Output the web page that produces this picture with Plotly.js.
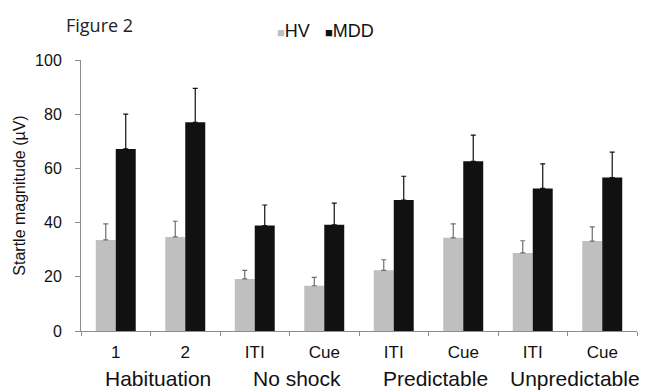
<!DOCTYPE html>
<html>
<head>
<meta charset="utf-8">
<script src="https://cdn.plot.ly/plotly-3.0.1.min.js"></script>
<style>html,body{margin:0;padding:0;background:#fff;}#chart{width:659px;height:391px;}</style>
</head>
<body>
<div id="chart"></div>
<script>
// Data
const categories = ['1', '2', 'ITI', 'Cue', 'ITI', 'Cue', 'ITI', 'Cue'];
const groups = ['Habituation', 'No shock', 'Predictable', 'Unpredictable'];
const seriesNames = ['HV', 'MDD'];
const hvValues = [33.6, 34.7, 19.2, 16.7, 22.4, 34.4, 28.8, 33.2];
const hvErrors = [5.9, 5.8, 3.2, 3.1, 3.9, 5.1, 4.5, 5.2];
const mddValues = [67.2, 77.0, 38.9, 39.2, 48.3, 62.6, 52.6, 56.6];
const mddErrors = [12.8, 12.5, 7.6, 8.0, 8.8, 9.7, 9.1, 9.4];
const yTicks = [0, 20, 40, 60, 80, 100];

const xs = categories.map((c, i) => i);
const fontFam = "'Liberation Sans', Arial, sans-serif";
const colors = ['#bfbfbf', '#111111'];

const traces = [
  {
    type: 'bar', name: seriesNames[0], x: xs, y: hvValues,
    marker: {color: colors[0], line: {width: 0}},
    error_y: {type: 'data', symmetric: false, array: hvErrors, arrayminus: hvErrors.map(() => 0),
              color: '#6e6e6e', thickness: 1.2, width: 2.5},
    showlegend: false
  },
  {
    type: 'bar', name: seriesNames[1], x: xs, y: mddValues,
    marker: {color: colors[1], line: {width: 0}},
    error_y: {type: 'data', symmetric: false, array: mddErrors, arrayminus: mddErrors.map(() => 0),
              color: '#111111', thickness: 1.2, width: 2.5},
    showlegend: false
  }
];

const plotW = 659 - 81 - 22, plotH = 391 - 60 - 60;
const px = v => (v - 81) / plotW;
const py = v => (391 - 60 - v) / plotH;

const annotations = groups.map((g, i) => ({
  text: g, x: 2 * i + 0.5, xref: 'x', y: 0, yref: 'paper', yanchor: 'middle',
  yshift: -47, xshift: 7, showarrow: false,
  font: {family: fontFam, size: 21, color: '#111'}
}));

annotations.push({
  text: 'Figure 2', x: px(64), xref: 'paper', xanchor: 'left', y: py(25), yref: 'paper', yanchor: 'middle',
  showarrow: false, font: {family: "'Open Sans', sans-serif", size: 18, color: '#222'}
});

const legendX = [275, 323];
seriesNames.forEach((n, i) => {
  annotations.push({
    text: '<span style="color:' + colors[i] + ';font-size:13px">■</span>' + n,
    x: px(legendX[i]), xref: 'paper', xanchor: 'left', y: py(31), yref: 'paper', yanchor: 'middle',
    showarrow: false, font: {family: fontFam, size: 18, color: '#111'}
  });
});

const layout = {
  width: 659, height: 391,
  margin: {l: 81, r: 22, t: 60, b: 60},
  paper_bgcolor: '#fff', plot_bgcolor: '#fff',
  barmode: 'group', bargap: 0.425, bargroupgap: 0,
  xaxis: {
    type: 'linear', range: [-0.5, 7.5], tickmode: 'array', tickvals: xs, ticktext: categories,
    ticks: '', showgrid: false, zeroline: false, showline: true, linecolor: '#8c8c8c', linewidth: 1,
    tickfont: {family: fontFam, size: 17, color: '#111'}, ticklabelstandoff: 6,
    minor: {tickmode: 'linear', tick0: -0.5, dtick: 1, ticks: 'outside', ticklen: 4, tickcolor: '#8c8c8c', tickwidth: 1, showgrid: false}
  },
  yaxis: {
    range: [0, 100], tickmode: 'array', tickvals: yTicks, ticks: 'outside', ticklen: 5,
    tickcolor: '#8c8c8c', showgrid: false, zeroline: false, showline: true, linecolor: '#8c8c8c', linewidth: 1,
    tickfont: {family: fontFam, size: 16, color: '#111'}, ticklabelstandoff: 10,
    title: {text: 'Startle magnitude (µV)', font: {family: fontFam, size: 16, color: '#111'}, standoff: 5}
  },
  annotations: annotations,
  font: {family: fontFam}
};

Plotly.newPlot('chart', traces, layout, {staticPlot: true, displayModeBar: false});
</script>
</body>
</html>
